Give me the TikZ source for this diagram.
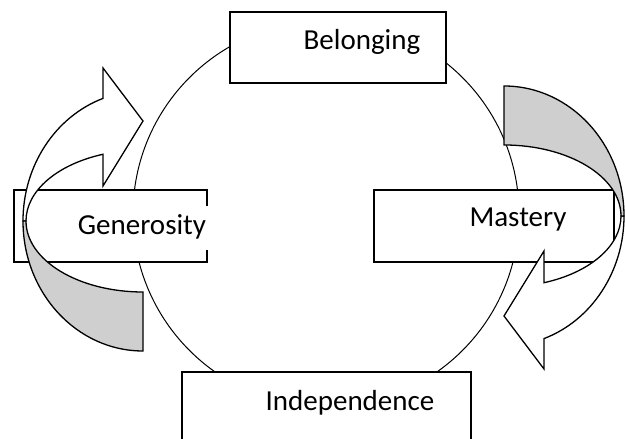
\documentclass[tikz,border=0pt]{standalone}
\usepackage{fontspec}
\setmainfont{Carlito}
\definecolor{ink}{HTML}{000000}
\definecolor{shade}{HTML}{CFCFCF}

\tikzset{
  bentarrow/.pic={
    % front face, runs up to the head
    \draw[fill=white] (-40,122.6) arc[start angle=109.47, end angle=180, x radius=120, y radius=130]
      -- (-117,0) arc[start angle=180, end angle=110, x radius=117, y radius=71]
      -- (-40,35) -- (0,100) -- (-40,153) -- cycle;
    % back face, the tail
    \draw[fill=shade] (-120,0) arc[start angle=180, end angle=270, x radius=120, y radius=130]
      -- (0,-71) arc[start angle=270, end angle=180, x radius=117, y radius=71] -- cycle;
  }
}

\begin{document}
\begin{tikzpicture}[x=1pt, y=1pt, line width=1.3pt, draw=ink,
  box/.style={draw=ink, fill=white, rectangle, inner sep=0pt},
  word/.style={anchor=base, inner sep=0pt, text=ink, font=\fontsize{29}{34}\selectfont}]
  \clip (0,0) rectangle (625,439);
  \draw[line width=1pt] (326,225) circle (193);

  \node[box, minimum width=216pt, minimum height=71pt] (belong) at (338,391.5) {};
  \node[box, minimum width=240pt, minimum height=72pt] (master) at (494,213) {};
  \node[box, minimum width=193pt, minimum height=72pt] (generous) at (110.5,213) {};
  \node[box, minimum width=289pt, minimum height=80pt] (indep) at (326.5,27) {};

  \node[word] (belongtxt) at (362,389) {Belonging};
  \node[word] (mastertxt) at (518,212) {Mastery};
  \node[word, fill=white, inner xsep=2pt, text height=29pt, text depth=15pt] (generoustxt) at (142,204) {Generosity};
  \node[word] (indeptxt) at (350,28) {Independence};

  \pic at (143,218) {bentarrow};
  \pic[rotate=180] at (504,223) {bentarrow};
\end{tikzpicture}
\end{document}
